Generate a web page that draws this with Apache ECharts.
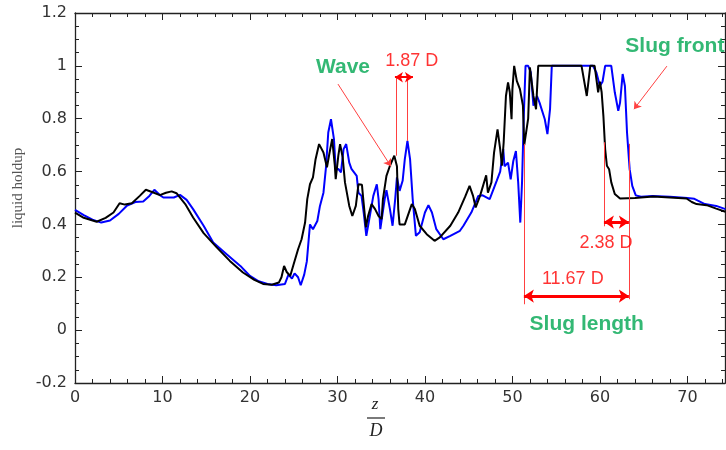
<!DOCTYPE html>
<html>
<head>
<meta charset="utf-8">
<script src="https://cdn.jsdelivr.net/npm/echarts@6/dist/echarts.min.js"></script>
<style>html,body{margin:0;padding:0;background:#fff}#c{width:726px;height:450px}</style>
</head>
<body>
<div id="c"></div>
<script>
// ---- data: z/D positions and liquid holdup values ----
var blueZ = [0,1,2,3,4,5,5.9,6.9,7.8,8.5,9.07,9.7,10.1,11.3,12.0,12.76,13.5,14.7,15.8,17.3,18.9,20,21,22,23,24,24.4,24.8,25.1,25.5,25.8,26.2,26.5,26.86,27.2,27.7,28,28.4,28.7,28.95,29.26,29.6,29.8,30.1,30.4,30.7,31.0,31.35,31.6,31.8,32.2,32.4,32.75,33.0,33.3,33.7,34.1,34.5,34.7,34.9,35.4,35.6,36.0,36.3,36.6,36.8,37.1,37.45,37.7,38.0,38.3,38.6,38.97,39.4,40.0,40.4,40.8,41.3,42.1,42.9,44.0,44.4,45.3,46.1,46.6,47.4,48.2,48.6,48.95,49.1,49.5,49.8,50.1,50.4,50.66,50.9,51.1,51.3,51.5,51.8,52.1,52.4,52.8,53.1,53.7,54.0,54.3,54.5,59.2,59.6,60.0,60.3,60.6,61.3,61.7,62.1,62.3,62.6,62.86,63.1,63.4,63.7,64.1,64.7,66,68,70,70.8,71.2,72.0,73.3,74.35];
var blueH = [0.455,0.435,0.418,0.407,0.415,0.44,0.47,0.485,0.487,0.508,0.531,0.511,0.502,0.502,0.512,0.493,0.458,0.395,0.332,0.288,0.243,0.205,0.185,0.175,0.17,0.175,0.21,0.195,0.215,0.2,0.17,0.21,0.26,0.40,0.382,0.413,0.47,0.52,0.62,0.748,0.798,0.723,0.609,0.61,0.597,0.685,0.704,0.634,0.61,0.612,0.584,0.52,0.508,0.445,0.357,0.432,0.508,0.552,0.496,0.382,0.496,0.53,0.458,0.395,0.496,0.578,0.527,0.565,0.647,0.716,0.647,0.496,0.357,0.37,0.445,0.473,0.445,0.382,0.344,0.357,0.376,0.395,0.445,0.508,0.51,0.496,0.565,0.6,0.685,0.62,0.634,0.571,0.64,0.678,0.559,0.407,0.56,0.81,1.0,1.0,0.975,0.849,0.886,0.861,0.798,0.742,0.836,1.0,1.0,0.975,0.924,0.94,1.0,1.0,0.9,0.83,0.86,0.969,0.924,0.748,0.609,0.546,0.51,0.505,0.508,0.505,0.5,0.497,0.49,0.477,0.47,0.458];

var blackZ = [0,1,2.48,3.5,4.4,5.1,5.7,6.5,7.4,8.1,8.95,9.7,10.4,11.05,11.6,12.6,13.5,14.7,16.2,17.7,19.2,20.5,21.5,22.5,23.3,23.6,23.9,24.2,24.6,25.0,25.5,25.9,26.3,26.55,26.86,27.2,27.5,27.9,28.4,28.8,29.1,29.4,29.7,29.8,30.1,30.3,30.6,30.86,31.35,31.7,32.1,32.4,32.8,32.95,33.26,33.5,33.9,34.3,34.7,35.05,35.2,35.6,36.0,36.5,36.8,36.95,37.1,37.7,38.5,38.85,39.4,40.2,41.1,41.7,42.9,43.8,44.6,45.1,45.5,45.8,46.3,47.0,47.2,47.6,47.9,48.3,48.6,48.8,49.0,49.26,49.5,49.7,49.9,50.0,50.2,50.5,50.86,51.2,51.35,51.8,52.0,52.4,52.7,52.95,57.9,58.5,58.9,59.4,59.8,60.0,60.2,60.4,60.6,60.8,61.05,61.3,61.7,62.3,64,66.1,68,69.9,70.5,71.05,72.2,73.3,74.35];
var blackH = [0.445,0.425,0.41,0.425,0.445,0.48,0.475,0.48,0.508,0.531,0.521,0.511,0.52,0.525,0.518,0.477,0.426,0.367,0.313,0.262,0.218,0.19,0.175,0.172,0.18,0.2,0.243,0.22,0.205,0.25,0.306,0.344,0.407,0.496,0.552,0.578,0.647,0.704,0.672,0.616,0.672,0.723,0.622,0.571,0.66,0.704,0.653,0.559,0.47,0.432,0.47,0.552,0.55,0.496,0.389,0.432,0.477,0.458,0.432,0.42,0.496,0.584,0.622,0.66,0.62,0.458,0.40,0.40,0.477,0.458,0.395,0.363,0.338,0.351,0.395,0.445,0.505,0.546,0.508,0.464,0.508,0.586,0.52,0.559,0.672,0.76,0.685,0.622,0.71,0.886,0.937,0.9,0.798,0.912,1.0,0.943,0.912,0.85,0.70,0.8,0.994,0.886,0.836,1.0,1.0,0.886,1.0,1.0,0.9,0.94,0.9,0.81,0.685,0.622,0.609,0.559,0.515,0.498,0.5,0.506,0.502,0.498,0.485,0.477,0.473,0.46,0.448];

var xTicks = [0,10,20,30,40,50,60,70];
var yTicks = [-0.2,0,0.2,0.4,0.6,0.8,1,1.2];

// ---- annotations (data coordinates) ----
var pointerLines = [ [[30.06,0.931],[36.11,0.62]], [[67.66,0.999],[63.89,0.836]] ];
var guideLines = [ [[36.77,0.957],[36.77,0.66]], [[38.02,0.957],[38.02,0.716]],
                   [[51.31,0.705],[51.31,0.098]], [[63.31,0.705],[63.31,0.117]],
                   [[60.46,0.711],[60.46,0.393]] ];
var smallArrows = [ [[36.57,0.957],[38.63,0.957]] ];
var bigArrows = [ [[51.31,0.129],[63.31,0.129]], [[60.46,0.409],[63.31,0.409]] ];
var redTexts = [ {t:'1.87 D', p:[38.5,1.018]}, {t:'11.67 D', p:[56.9,0.193]}, {t:'2.38 D', p:[60.7,0.329]} ];
var greenTexts = [ {t:'Wave', p:[30.63,0.995]}, {t:'Slug length', p:[58.5,0.023]}, {t:'Slug front', p:[68.57,1.075]} ];

function pairs(xs, ys){ return xs.map(function(x,i){ return [x, ys[i]]; }); }
function toLines(arr){ return arr.map(function(c){ return {coords:c}; }); }

var chart = echarts.init(document.getElementById('c'), null, {renderer:'canvas'});
var axisCol = '#222';
var labelFont = {fontFamily:'DejaVu Sans', fontSize:16, color:'#333'};

function xAx(pos, showLabel){
  return {type:'value', position:pos, min:0, max:74.3, interval:10,
    axisLine:{show:true, onZero:false, lineStyle:{color:axisCol, width:1.3}},
    axisTick:{show:true, inside:true, length:7, lineStyle:{color:axisCol}},
    minorTick:{show:true, splitNumber:5, length:4, lineStyle:{color:axisCol}},
    splitLine:{show:false},
    axisLabel:Object.assign({show:showLabel, margin:7, showMaxLabel:false,
      formatter:function(v){ return xTicks.indexOf(v) >= 0 ? String(v) : ''; }}, labelFont)};
}
function yAx(pos, showLabel){
  return {type:'value', position:pos, min:-0.2, max:1.2, interval:0.2,
    axisLine:{show:true, onZero:false, lineStyle:{color:axisCol, width:1.3}},
    axisTick:{show:true, inside:true, length:7, lineStyle:{color:axisCol}},
    minorTick:{show:true, splitNumber:4, length:4, lineStyle:{color:axisCol}},
    splitLine:{show:false},
    axisLabel:Object.assign({show:showLabel, margin:8,
      formatter:function(v){ return String(Math.round(v*10)/10); }}, labelFont)};
}

function textSeries(items, style){
  return {type:'scatter', xAxisIndex:0, yAxisIndex:0, symbolSize:1, silent:true, z:20,
    itemStyle:{color:'rgba(0,0,0,0)'},
    data:items.map(function(o){ return {value:o.p, name:o.t}; }),
    label:Object.assign({show:true, position:'inside', formatter:'{b}'}, style)};
}

chart.setOption({
  animation:false,
  grid:{left:75, right:1, top:13, bottom:67, show:false, containLabel:false, outerBoundsMode:'none'},
  xAxis:[xAx('bottom', true), xAx('top', false)],
  yAxis:[yAx('left', true), yAx('right', false)],
  series:[
    {type:'line', name:'blue', data:pairs(blueZ, blueH), showSymbol:false, symbol:'none',
      lineStyle:{color:'#0000ff', width:2}, z:3},
    {type:'line', name:'black', data:pairs(blackZ, blackH), showSymbol:false, symbol:'none',
      lineStyle:{color:'#000000', width:2}, z:4},
    {type:'lines', coordinateSystem:'cartesian2d', data:toLines(guideLines), symbol:['none','none'],
      lineStyle:{color:'#ff4040', width:1, opacity:1}, z:10},
    {type:'lines', coordinateSystem:'cartesian2d', data:toLines(pointerLines), symbol:['none','arrow'], symbolSize:7,
      lineStyle:{color:'#ff4040', width:1, opacity:1}, z:10},
    {type:'lines', coordinateSystem:'cartesian2d', data:toLines(smallArrows), symbol:['arrow','arrow'], symbolSize:8,
      lineStyle:{color:'#ff0000', width:2, opacity:1}, z:11},
    {type:'lines', coordinateSystem:'cartesian2d', data:toLines(bigArrows), symbol:['arrow','arrow'], symbolSize:10,
      lineStyle:{color:'#ff0000', width:3, opacity:1}, z:11},
    textSeries(redTexts, {fontFamily:'Liberation Sans, Arial', fontSize:18, color:'#ff0000'}),
    textSeries(greenTexts, {fontFamily:'Liberation Sans, Arial', fontSize:21, fontWeight:'bold', color:'#00a651'})
  ],
  graphic:[
    {type:'text', x:18, y:188, rotation:Math.PI/2, style:{text:'liquid holdup', fill:'#555',
      font:'15px "Liberation Serif", "DejaVu Serif", serif', align:'center', verticalAlign:'middle'}},
    {type:'text', x:375, y:405, style:{text:'z', fill:'#222',
      font:'italic 17px "Liberation Serif", serif', align:'center', verticalAlign:'middle'}},
    {type:'line', shape:{x1:367, y1:418, x2:385, y2:418}, style:{stroke:'#222', lineWidth:1.2}},
    {type:'text', x:376, y:431, style:{text:'D', fill:'#222',
      font:'italic 18px "Liberation Serif", serif', align:'center', verticalAlign:'middle'}}
  ]
});
</script>
</body>
</html>
